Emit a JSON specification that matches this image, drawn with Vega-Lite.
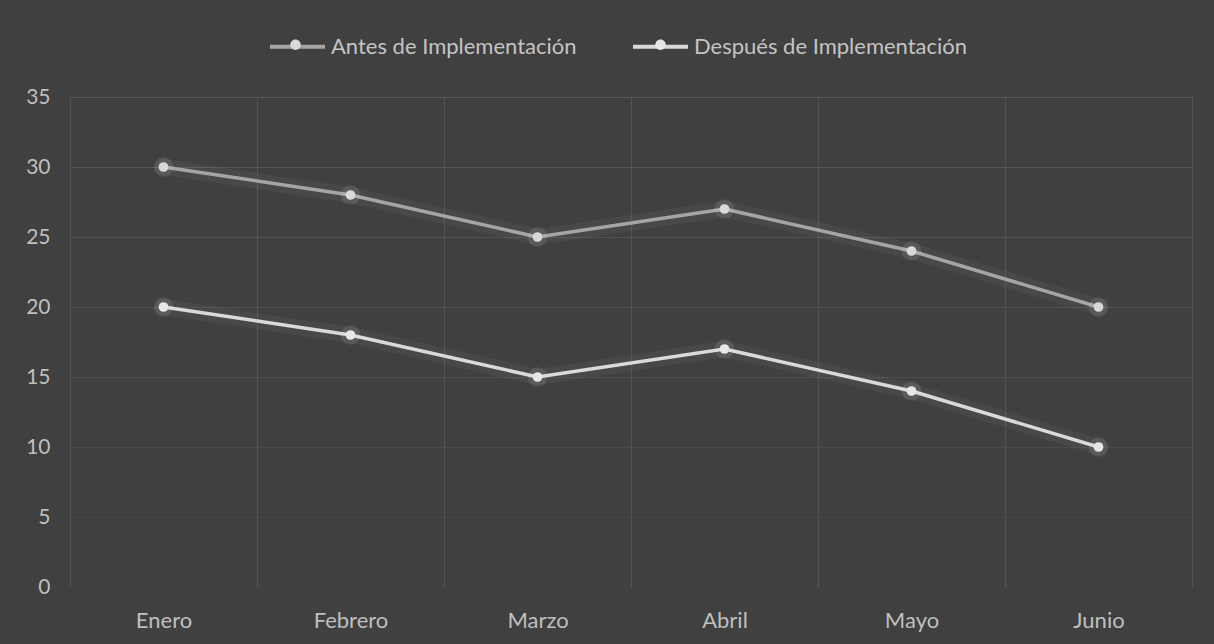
{
  "$schema": "https://vega.github.io/schema/vega-lite/v6.json",
  "width": 1122,
  "height": 490,
  "autosize": {"type": "none"},
  "padding": {"left": 70, "top": 97, "right": 22, "bottom": 57},
  "background": "#404040",
  "config": {
    "view": {"stroke": null},
    "font": "Lato",
    "axis": {"labelFont": "Lato", "labelFontSize": 21, "labelColor": "#bfbfbf", "gridColor": "#5a5a5a", "gridWidth": 1, "domain": false, "ticks": false, "title": null}
  },
  "data": {
    "values": [
      {"mes": "Enero", "serie": "Antes de Implementación", "valor": 30},
      {"mes": "Febrero", "serie": "Antes de Implementación", "valor": 28},
      {"mes": "Marzo", "serie": "Antes de Implementación", "valor": 25},
      {"mes": "Abril", "serie": "Antes de Implementación", "valor": 27},
      {"mes": "Mayo", "serie": "Antes de Implementación", "valor": 24},
      {"mes": "Junio", "serie": "Antes de Implementación", "valor": 20},
      {"mes": "Enero", "serie": "Después de Implementación", "valor": 20},
      {"mes": "Febrero", "serie": "Después de Implementación", "valor": 18},
      {"mes": "Marzo", "serie": "Después de Implementación", "valor": 15},
      {"mes": "Abril", "serie": "Después de Implementación", "valor": 17},
      {"mes": "Mayo", "serie": "Después de Implementación", "valor": 14},
      {"mes": "Junio", "serie": "Después de Implementación", "valor": 10}
    ]
  },
  "encoding": {
    "x": {
      "field": "mes", "type": "ordinal", "sort": null, "bandPosition": 0.5,
      "scale": {"type": "band", "paddingInner": 0, "paddingOuter": 0},
      "axis": {"grid": true, "tickBand": "extent", "labelAngle": 0, "labelPadding": 23, "labelBaseline": "top", "labelFontSize": 22, "gridOpacity": 0.75}
    },
    "y": {
      "field": "valor", "type": "quantitative",
      "scale": {"domain": [0, 35], "nice": false},
      "axis": {"values": [0, 5, 10, 15, 20, 25, 30, 35], "labelPadding": 20, "grid": true, "gridOpacity": {"expr": "0.15 + 0.85 * datum.value / 35"}}
    }
  },
  "layer": [
    {
      "mark": {"type": "line", "strokeWidth": 16, "opacity": 0.045, "strokeCap": "round"},
      "encoding": {
        "detail": {"field": "serie"},
        "color": {"value": "#ffffff"}
      }
    },
    {
      "mark": {"type": "line", "strokeWidth": 3.5},
      "encoding": {
        "stroke": {
          "field": "serie", "type": "nominal",
          "scale": {"range": ["#a5a5a5", "#d9d9d9"]},
          "legend": {
            "title": null, "orient": "none", "direction": "horizontal",
            "legendX": 198, "legendY": -80,
            "symbolType": "M-1,0H1", "symbolSize": 3025, "symbolStrokeWidth": 4,
            "labelFont": "Lato", "labelFontSize": 22, "labelColor": "#c4c4c4", "labelLimit": 500,
            "labelOffset": 4, "columnPadding": 48
          }
        }
      }
    },
    {
      "mark": {"type": "circle", "size": 380, "opacity": 0.1},
      "encoding": {"color": {"value": "#ffffff"}, "detail": {"field": "serie"}}
    },
    {
      "mark": {"type": "circle", "size": 95, "opacity": 1},
      "encoding": {
        "fill": {
          "field": "serie", "type": "nominal",
          "scale": {"range": ["#d9d9d9", "#e6e6e6"]},
          "legend": {
            "title": null, "orient": "none", "direction": "horizontal",
            "legendX": 198, "legendY": -80,
            "symbolType": "M0.19,0A0.19,0.19,0,1,1,-0.19,0A0.19,0.19,0,1,1,0.19,0Z", "symbolSize": 3025, "symbolStrokeWidth": 0, "symbolOpacity": 1,
            "labelFont": "Lato", "labelFontSize": 22, "labelExpr": "''",
            "labelOffset": 4, "columnPadding": 306
          }
        }
      }
    }
  ]
}
